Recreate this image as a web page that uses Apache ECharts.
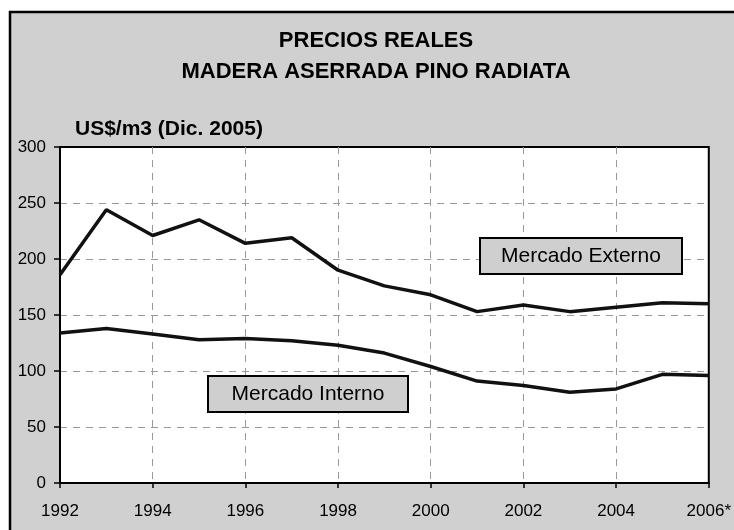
<!DOCTYPE html>
<html>
<head>
<meta charset="utf-8">
<script src="https://cdn.jsdelivr.net/npm/echarts@6/dist/echarts.min.js"></script>
<style>
  html, body { margin: 0; padding: 0; background: #fff; }
  #chart { width: 734px; height: 530px; }
</style>
</head>
<body>
<div id="chart"></div>
<script>
// datos (US$/m3, Dic. 2005)
var years = [1992, 1993, 1994, 1995, 1996, 1997, 1998, 1999, 2000, 2001, 2002, 2003, 2004, 2005, 2006];
var externo = [186, 244, 221, 235, 214, 219, 190, 176, 168, 153, 159, 153, 157, 161, 160];
var interno = [134, 138, 133, 128, 129, 127, 123, 116, 104, 91, 87, 81, 84, 97, 96];
var yTicks = [0, 50, 100, 150, 200, 250, 300];
var xTicks = ['1992', '1994', '1996', '1998', '2000', '2002', '2004', '2006*'];

var chart = echarts.init(document.getElementById('chart'));

function pares(vals) {
  return years.map(function (y, i) { return [y, vals[i]]; });
}

var sans = "'Liberation Sans', Arial, sans-serif";

// caja de etiqueta
function caja(x, y, w, h, texto) {
  return {
    type: 'group',
    x: x, y: y,
    z: 100,
    children: [{
      type: 'rect',
      z: 100,
      shape: { x: 0, y: 0, width: w, height: h },
      style: { fill: '#cfcfcf', stroke: '#000', lineWidth: 2 }
    }, {
      type: 'text',
      z: 101,
      style: {
        x: w / 2, y: h / 2, text: texto, align: 'center', verticalAlign: 'middle',
        font: '21px ' + sans, fill: '#000'
      }
    }]
  };
}

var option = {
  backgroundColor: '#fff',
  animation: false,
  title: {
    text: 'PRECIOS REALES\nMADERA ASERRADA PINO RADIATA',
    left: 371,
    textAlign: 'center',
    top: 20,
    textStyle: {
      fontFamily: sans, fontSize: 22, fontWeight: 'bold', color: '#000', lineHeight: 31
    }
  },
  graphic: [
    {
      type: 'rect', z: -100, silent: true,
      shape: { x: 10, y: 12, width: 760, height: 560 },
      style: { fill: '#d0d0d0', stroke: '#000', lineWidth: 2.5 }
    },
    caja(480, 238, 202, 36, 'Mercado Externo'),
    caja(208, 376, 200, 36, 'Mercado Interno')
  ],
  grid: {
    left: 60, right: 25, top: 147, bottom: 47,
    show: true, backgroundColor: '#fff', borderColor: '#000', borderWidth: 2
  },
  xAxis: {
    type: 'value',
    min: 1992, max: 2006, interval: 2,
    axisLine: { show: true, lineStyle: { color: '#000', width: 2 } },
    axisTick: { show: true, inside: false, length: 5, lineStyle: { color: '#000', width: 1.5 } },
    axisLabel: {
      margin: 20, color: '#000', fontFamily: sans, fontSize: 17,
      formatter: function (v) { return xTicks[(v - 1992) / 2]; }
    },
    splitLine: {
      show: true, showMinLine: false, showMaxLine: false,
      lineStyle: { color: '#999', type: [7, 6], width: 1 }
    }
  },
  yAxis: {
    type: 'value',
    min: 0, max: 300, interval: 50,
    name: 'US$/m3 (Dic. 2005)',
    nameLocation: 'end',
    nameGap: 18,
    nameTextStyle: {
      fontFamily: sans, fontSize: 21, fontWeight: 'bold', color: '#000',
      align: 'left', verticalAlign: 'middle', padding: [0, 0, 0, 15]
    },
    axisLine: { show: true, lineStyle: { color: '#000', width: 2 } },
    axisTick: { show: true, inside: false, length: 6, lineStyle: { color: '#000', width: 1.5 } },
    axisLabel: {
      margin: 14, color: '#000', fontFamily: sans, fontSize: 17,
      formatter: function (v) { return yTicks.indexOf(v) >= 0 ? String(v) : ''; }
    },
    splitLine: {
      show: true, showMinLine: false, showMaxLine: false,
      lineStyle: { color: '#999', type: [7, 6], width: 1 }
    }
  },
  series: [{
    name: 'Mercado Externo',
    type: 'line',
    data: pares(externo),
    symbol: 'none',
    lineStyle: { color: '#111', width: 3.5 }
  }, {
    name: 'Mercado Interno',
    type: 'line',
    data: pares(interno),
    symbol: 'none',
    lineStyle: { color: '#111', width: 3.5 }
  }]
};

chart.setOption(option);
</script>
</body>
</html>
